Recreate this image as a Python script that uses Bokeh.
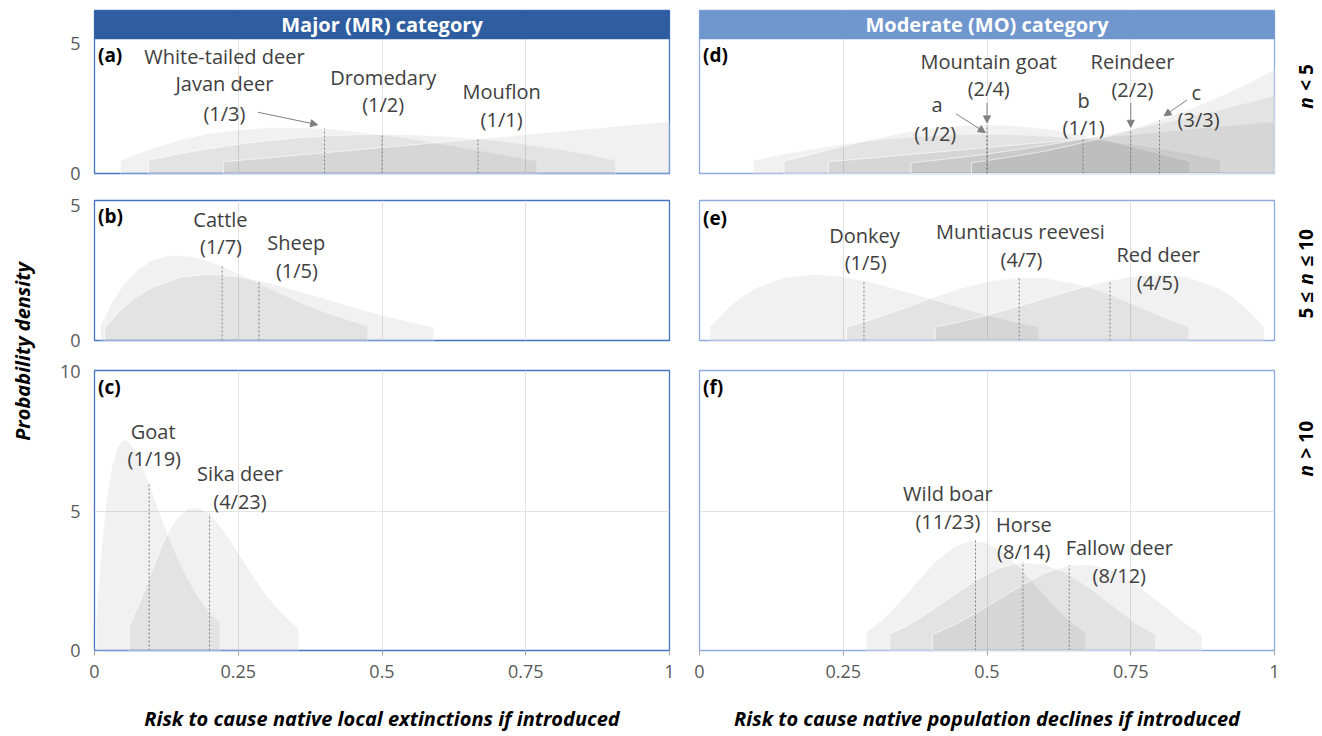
from math import pi
from bokeh.plotting import figure
from bokeh.layouts import row, column
from bokeh.models import Range1d, FixedTicker, NumeralTickFormatter, Arrow, NormalHead
from bokeh.core.properties import value
from bokeh.embed import file_html
from bokeh.resources import INLINE

# ---------------- data ----------------
# (a) Major category, n < 5
WTJ_X = [0.045, 0.1, 0.15, 0.2, 0.25, 0.3, 0.35, 0.4, 0.45, 0.5, 0.55, 0.6, 0.65, 0.7, 0.769]
WTJ_Y = [0.49, 0.97, 1.30, 1.54, 1.69, 1.76, 1.77, 1.73, 1.63, 1.50, 1.34, 1.15, 0.96, 0.76, 0.49]
DROM_X = [0.094, 0.15, 0.2, 0.25, 0.3, 0.35, 0.4, 0.45, 0.5, 0.55, 0.6, 0.65, 0.7, 0.75, 0.8, 0.85, 0.906]
DROM_Y = [0.51, 0.77, 0.96, 1.13, 1.26, 1.37, 1.44, 1.49, 1.50, 1.49, 1.44, 1.37, 1.26, 1.13, 0.96, 0.77, 0.51]
MOUF_X = [0.224, 0.4, 0.6, 0.8, 1.0]
MOUF_Y = [0.45, 0.80, 1.20, 1.60, 2.00]
A_MEAN_X = [0.4, 0.5, 0.667]
A_MEAN_Y = [1.73, 1.50, 1.33]
A_TEXT = ["White-tailed deer", "Javan deer", "(1/3)", "Dromedary", "(1/2)", "Mouflon", "(1/1)"]

# (b) Major category, 5 <= n <= 10
CATTLE_X = [0.0105, 0.03, 0.05, 0.075, 0.1, 0.125, 0.15, 0.175, 0.2, 0.25, 0.3, 0.35, 0.4, 0.45, 0.475]
CATTLE_Y = [0.55, 1.40, 2.06, 2.63, 2.98, 3.14, 3.17, 3.09, 2.94, 2.49, 1.98, 1.48, 1.05, 0.70, 0.55]
SHEEP_X = [0.018, 0.05, 0.075, 0.1, 0.15, 0.2, 0.25, 0.3, 0.35, 0.4, 0.45, 0.5, 0.55, 0.59]
SHEEP_Y = [0.50, 1.22, 1.65, 1.97, 2.35, 2.46, 2.37, 2.16, 1.87, 1.56, 1.24, 0.94, 0.68, 0.50]
B_MEAN_X = [0.222, 0.286]
B_MEAN_Y = [2.76, 2.23]
B_TEXT = ["Cattle", "(1/7)", "Sheep", "(1/5)"]

# (c) Major category, n > 10
GOAT_X = [0.0027, 0.01, 0.02, 0.03, 0.04, 0.05, 0.06, 0.07, 0.08, 0.09, 0.1, 0.12, 0.14, 0.16, 0.18, 0.2, 0.218]
GOAT_Y = [0.98, 3.17, 5.28, 6.59, 7.29, 7.55, 7.49, 7.20, 6.78, 6.26, 5.70, 4.57, 3.53, 2.65, 1.93, 1.37, 0.99]
SIKA_X = [0.06, 0.08, 0.1, 0.12, 0.14, 0.16, 0.18, 0.2, 0.22, 0.24, 0.26, 0.28, 0.3, 0.32, 0.34, 0.355]
SIKA_Y = [0.85, 1.79, 2.87, 3.89, 4.65, 5.07, 5.14, 4.90, 4.43, 3.83, 3.18, 2.54, 1.96, 1.47, 1.06, 0.81]
C_MEAN_X = [0.095, 0.2]
C_MEAN_Y = [5.97, 4.90]
C_TEXT = ["Goat", "(1/19)", "Sika deer", "(4/23)"]

# (d) Moderate category, n < 5
DA_X = [0.094, 0.15, 0.2, 0.25, 0.3, 0.35, 0.4, 0.45, 0.5, 0.55, 0.6, 0.65, 0.7, 0.75, 0.8, 0.85, 0.906]
DA_Y = [0.51, 0.77, 0.96, 1.13, 1.26, 1.37, 1.44, 1.49, 1.50, 1.49, 1.44, 1.37, 1.26, 1.13, 0.96, 0.77, 0.51]
MGOAT_X = [0.147, 0.2, 0.25, 0.3, 0.35, 0.4, 0.45, 0.5, 0.55, 0.6, 0.65, 0.7, 0.75, 0.8, 0.853]
MGOAT_Y = [0.47, 0.77, 1.05, 1.32, 1.55, 1.73, 1.84, 1.875, 1.84, 1.73, 1.55, 1.32, 1.05, 0.77, 0.47]
DB_X = [0.224, 0.4, 0.6, 0.8, 1.0]
DB_Y = [0.45, 0.80, 1.20, 1.60, 2.00]
REIN_X = [0.368, 0.45, 0.5, 0.55, 0.6, 0.65, 0.7, 0.75, 0.8, 0.85, 0.9, 0.95, 1.0]
REIN_Y = [0.41, 0.61, 0.75, 0.91, 1.08, 1.27, 1.47, 1.69, 1.92, 2.17, 2.43, 2.71, 3.00]
DC_X = [0.473, 0.5, 0.55, 0.6, 0.65, 0.7, 0.75, 0.8, 0.85, 0.9, 0.95, 1.0]
DC_Y = [0.42, 0.50, 0.67, 0.86, 1.10, 1.37, 1.69, 2.05, 2.46, 2.92, 3.43, 4.00]
D_MEAN_X = [0.5, 0.5, 0.667, 0.75, 0.8]
D_MEAN_Y = [1.50, 1.875, 1.33, 1.69, 2.05]
D_TEXT = ["Mountain goat", "(2/4)", "a", "(1/2)", "b", "(1/1)", "Reindeer", "(2/2)", "c", "(3/3)"]

# (e) Moderate category, 5 <= n <= 10
DONKEY_X = [0.018, 0.05, 0.075, 0.1, 0.15, 0.2, 0.25, 0.3, 0.35, 0.4, 0.45, 0.5, 0.55, 0.59]
DONKEY_Y = [0.50, 1.22, 1.65, 1.97, 2.35, 2.46, 2.37, 2.16, 1.87, 1.56, 1.24, 0.94, 0.68, 0.50]
MUNT_X = [0.256, 0.3, 0.35, 0.4, 0.45, 0.5, 0.55, 0.6, 0.65, 0.7, 0.75, 0.8, 0.851]
MUNT_Y = [0.50, 0.78, 1.15, 1.55, 1.91, 2.19, 2.33, 2.32, 2.14, 1.82, 1.38, 0.92, 0.49]
REDD_X = [0.41, 0.45, 0.5, 0.55, 0.6, 0.65, 0.7, 0.75, 0.8, 0.85, 0.9, 0.925, 0.95, 0.982]
REDD_Y = [0.50, 0.68, 0.94, 1.24, 1.56, 1.87, 2.16, 2.37, 2.46, 2.35, 1.97, 1.65, 1.22, 0.50]
E_MEAN_X = [0.286, 0.556, 0.714]
E_MEAN_Y = [2.23, 2.34, 2.23]
E_TEXT = ["Donkey", "(1/5)", "Muntiacus reevesi", "(4/7)", "Red deer", "(4/5)"]

# (f) Moderate category, n > 10
WBOAR_X = [0.29, 0.32, 0.35, 0.38, 0.41, 0.44, 0.47, 0.5, 0.53, 0.56, 0.59, 0.62, 0.65, 0.672]
WBOAR_Y = [0.65, 1.14, 1.78, 2.50, 3.18, 3.69, 3.94, 3.87, 3.50, 2.90, 2.21, 1.53, 0.96, 0.64]
HORSE_X = [0.331, 0.36, 0.4, 0.44, 0.48, 0.52, 0.56, 0.6, 0.64, 0.68, 0.72, 0.76, 0.793]
HORSE_Y = [0.58, 0.87, 1.38, 1.95, 2.51, 2.95, 3.16, 3.10, 2.76, 2.21, 1.57, 0.96, 0.55]
FALLOW_X = [0.405, 0.44, 0.48, 0.52, 0.56, 0.6, 0.64, 0.68, 0.72, 0.76, 0.8, 0.84, 0.874]
FALLOW_Y = [0.58, 0.89, 1.33, 1.83, 2.33, 2.77, 3.04, 3.09, 2.86, 2.38, 1.73, 1.05, 0.55]
F_MEAN_X = [0.48, 0.5625, 0.643]
F_MEAN_Y = [3.95, 3.17, 3.05]
F_TEXT = ["Wild boar", "(11/23)", "Horse", "(8/14)", "Fallow deer", "(8/12)"]

X_TICKS = [0, 0.25, 0.5, 0.75, 1]
HEADERS = ["Major (MR) category", "Moderate (MO) category"]
X_TITLES = ["Risk to cause native local extinctions if introduced",
            "Risk to cause native population declines if introduced"]
Y_TITLE = "Probability density"

# ---------------- style / layout ----------------
FONT = "Open Sans"
TXT = "#404040"
TICKC = "#595959"
L_BORDER = "#4472C4"
R_BORDER = "#8FAADC"
L_HEAD = "#2E5EA0"
R_HEAD = "#6F96CD"
GRIDC = "#E3E3E3"
DASHC = "#808080"
LBL = "20px"
TOTAL_H = 732
TOP_YMAX = 5.2          # top of the plotting area of the first row
HEAD_YMAX = 6.279       # the header band sits above it, inside the same frame


def panel(left, ymax, yticks, top_b, bot_b, fh, bottom=False, xtitle=None):
    p = figure(frame_width=575, frame_height=fh, x_range=Range1d(0, 1), y_range=Range1d(0, ymax),
               min_border_left=46 if left else 15, min_border_right=15 if left else 8,
               min_border_top=top_b, min_border_bottom=bot_b,
               toolbar_location=None, output_backend="svg",
               background_fill_color="white", border_fill_color="white")
    p.outline_line_color = L_BORDER if left else R_BORDER
    p.outline_line_width = 1.3
    p.xgrid.ticker = FixedTicker(ticks=[0.25, 0.5, 0.75])
    p.xgrid.grid_line_color = GRIDC
    if ymax > 7:
        p.ygrid.ticker = FixedTicker(ticks=[5])
        p.ygrid.grid_line_color = GRIDC
    else:
        p.ygrid.grid_line_color = None
    if left:
        p.yaxis.ticker = FixedTicker(ticks=yticks)
        p.yaxis.axis_line_color = None
        p.yaxis.major_tick_line_color = None
        p.yaxis.minor_tick_line_color = None
        p.yaxis.major_label_standoff = 8
        p.yaxis.major_label_text_font = FONT
        p.yaxis.major_label_text_font_size = "18px"
        p.yaxis.major_label_text_color = TICKC
    else:
        p.yaxis.visible = False
    if bottom:
        p.xaxis.ticker = FixedTicker(ticks=X_TICKS)
        p.xaxis.formatter = NumeralTickFormatter(format="0.[00]")
        p.xaxis.axis_line_color = None
        p.xaxis.major_tick_line_color = "#A6A6A6"
        p.xaxis.major_tick_in = 0
        p.xaxis.major_tick_out = 5
        p.xaxis.minor_tick_line_color = None
        p.xaxis.major_label_standoff = 9
        p.xaxis.major_label_text_font = FONT
        p.xaxis.major_label_text_font_size = "18px"
        p.xaxis.major_label_text_color = TICKC
        p.xaxis.axis_label = xtitle
        p.xaxis.axis_label_text_font = FONT
        p.xaxis.axis_label_text_font_size = "20px"
        p.xaxis.axis_label_text_font_style = "bold italic"
        p.xaxis.axis_label_text_color = "black"
        p.xaxis.axis_label_standoff = 24
    else:
        p.xaxis.visible = False
    return p


def density(p, xs, ys):
    px = [xs[0]] + list(xs) + [xs[-1]]
    py = [0] + list(ys) + [0]
    p.patch(px, py, fill_color="black", fill_alpha=0.055,
            line_color="white", line_width=0.8, line_alpha=0.75)


def means(p, mx, my):
    p.segment(x0=mx, y0=[0] * len(mx), x1=mx, y1=my, line_color=DASHC,
              line_width=1, line_dash="2 2")


def texts(p, xs, ys, labels, size=LBL, color=TXT, style="normal", align="center"):
    p.text(x=xs, y=ys, text=labels, text_font=value(FONT), text_font_size=size,
           text_color=color, text_font_style=style, text_align=align, text_baseline="middle")


def letter(p, y, lab):
    texts(p, [0.006], [y], [lab], size="19px", color="black", style="bold", align="left")


def arrow(p, x0, y0, x1, y1):
    p.add_layout(Arrow(end=NormalHead(size=7, fill_color=DASHC, line_color=DASHC),
                       x_start=x0, y_start=y0, x_end=x1, y_end=y1,
                       line_color=DASHC, line_width=1))


def header(p, text, color):
    p.quad(left=[0], right=[1], bottom=[TOP_YMAX], top=[HEAD_YMAX], fill_color=color,
           line_color=color, line_width=1.3)
    texts(p, [0.5], [(TOP_YMAX + HEAD_YMAX) / 2], [text], size="20px", color="white", style="bold")


# ---------------- panels ----------------
fa = panel(True, HEAD_YMAX, [0, 5], 10, 13, 163)
for xs, ys in [(WTJ_X, WTJ_Y), (DROM_X, DROM_Y), (MOUF_X, MOUF_Y)]:
    density(fa, xs, ys)
means(fa, A_MEAN_X, A_MEAN_Y)
texts(fa, [0.226, 0.226, 0.226, 0.502, 0.502, 0.708, 0.708],
      [4.50, 3.46, 2.30, 3.69, 2.65, 3.15, 2.08], A_TEXT)
arrow(fa, 0.284, 2.36, 0.388, 1.88)
letter(fa, 4.55, "(a)")
header(fa, HEADERS[0], L_HEAD)

fd = panel(False, HEAD_YMAX, [0, 5], 10, 13, 163)
for xs, ys in [(DA_X, DA_Y), (MGOAT_X, MGOAT_Y), (DB_X, DB_Y), (REIN_X, REIN_Y), (DC_X, DC_Y)]:
    density(fd, xs, ys)
means(fd, D_MEAN_X, D_MEAN_Y)
texts(fd, [0.503, 0.503, 0.413, 0.410, 0.668, 0.668, 0.753, 0.753, 0.864, 0.868],
      [4.31, 3.27, 2.64, 1.55, 2.83, 1.76, 4.31, 3.25, 3.13, 2.07], D_TEXT)
arrow(fd, 0.446, 2.30, 0.497, 1.58)
arrow(fd, 0.5, 2.72, 0.5, 1.95)
arrow(fd, 0.75, 2.72, 0.75, 1.78)
arrow(fd, 0.848, 2.83, 0.808, 2.22)
letter(fd, 4.55, "(d)")
header(fd, HEADERS[1], R_HEAD)

fb = panel(True, 5.2, [0, 5], 14, 15, 140)
for xs, ys in [(CATTLE_X, CATTLE_Y), (SHEEP_X, SHEEP_Y)]:
    density(fb, xs, ys)
means(fb, B_MEAN_X, B_MEAN_Y)
texts(fb, [0.219, 0.220, 0.351, 0.352], [4.48, 3.48, 3.63, 2.59], B_TEXT)
letter(fb, 4.63, "(b)")

fe = panel(False, 5.2, [0, 5], 14, 15, 140)
for xs, ys in [(DONKEY_X, DONKEY_Y), (MUNT_X, MUNT_Y), (REDD_X, REDD_Y)]:
    density(fe, xs, ys)
means(fe, E_MEAN_X, E_MEAN_Y)
texts(fe, [0.287, 0.289, 0.558, 0.560, 0.798, 0.797], [3.89, 2.89, 4.04, 3.00, 3.19, 2.15], E_TEXT)
letter(fe, 4.55, "(e)")

fc = panel(True, 10.05, [0, 5, 10], 15, 82, 280, bottom=True, xtitle=X_TITLES[0])
for xs, ys in [(GOAT_X, GOAT_Y), (SIKA_X, SIKA_Y)]:
    density(fc, xs, ys)
means(fc, C_MEAN_X, C_MEAN_Y)
texts(fc, [0.102, 0.104, 0.253, 0.253], [7.86, 6.89, 6.36, 5.36], C_TEXT)
letter(fc, 9.46, "(c)")

ff = panel(False, 10.05, [0, 5, 10], 15, 82, 280, bottom=True, xtitle=X_TITLES[1])
for xs, ys in [(WBOAR_X, WBOAR_Y), (HORSE_X, HORSE_Y), (FALLOW_X, FALLOW_Y)]:
    density(ff, xs, ys)
means(ff, F_MEAN_X, F_MEAN_Y)
texts(ff, [0.432, 0.432, 0.564, 0.564, 0.730, 0.730], [5.64, 4.64, 4.54, 3.54, 3.68, 2.68], F_TEXT)
letter(ff, 9.46, "(f)")

# ---------------- side labels ----------------
ylab = figure(frame_width=48, frame_height=TOTAL_H, x_range=Range1d(0, 48), y_range=Range1d(TOTAL_H, 0),
              min_border_left=0, min_border_right=0, min_border_top=0, min_border_bottom=0,
              x_axis_type=None, y_axis_type=None, toolbar_location=None, output_backend="svg")
ylab.outline_line_color = None
ylab.text(x=[22], y=[351], text=[Y_TITLE], angle=pi / 2, text_font=value(FONT), text_font_size="20px",
          text_font_style="bold italic", text_color="black", text_align="center", text_baseline="middle")

rlab = figure(frame_width=38, frame_height=TOTAL_H, x_range=Range1d(1282, 1320), y_range=Range1d(TOTAL_H, 0),
              min_border_left=0, min_border_right=0, min_border_top=0, min_border_bottom=0,
              x_axis_type=None, y_axis_type=None, toolbar_location=None, output_backend="svg")
rlab.outline_line_color = None
R_PIECES = [("n", 108.3, "bold italic"), ("< 5", 90.2, "bold"),
            ("5 ≤", 318.0, "bold"), ("n", 284.2, "bold italic"), ("≤ 10", 266.1, "bold"),
            ("n", 476.1, "bold italic"), ("> 10", 458.0, "bold")]
for t, yy, st in R_PIECES:
    rlab.text(x=[1305], y=[yy], text=[t], angle=pi / 2, text_font=value(FONT), text_font_size="19px",
              text_font_style=st, text_color="black", text_align="left", text_baseline="middle")

grid = column(row(fa, fd), row(fb, fe), row(fc, ff))
layout = row(ylab, grid, rlab)

open("out.html", "w").write(file_html(layout, INLINE))
